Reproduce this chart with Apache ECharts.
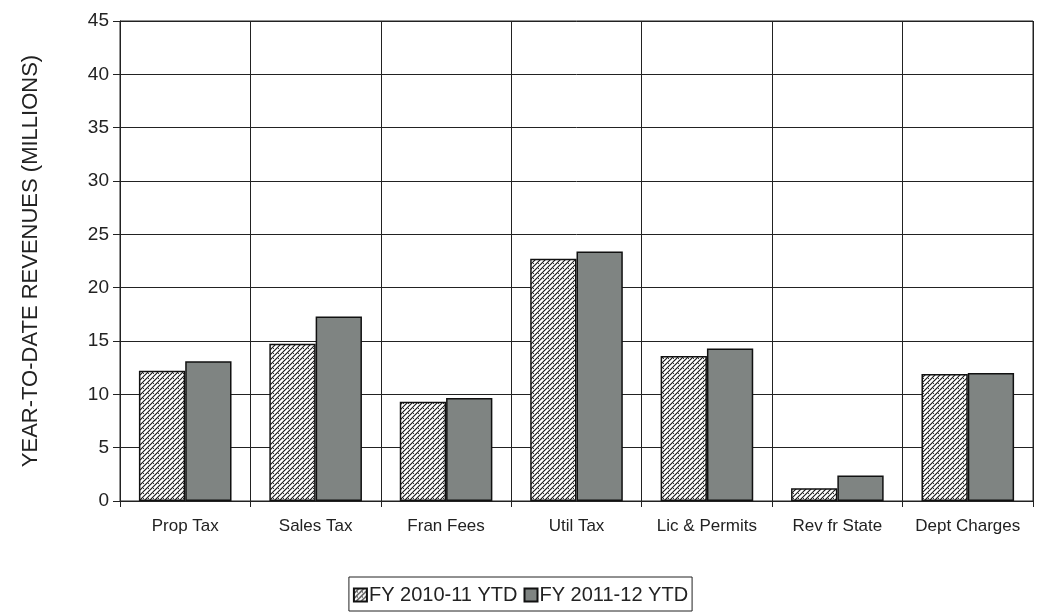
<!DOCTYPE html>
<html>
<head>
    <meta charset="utf-8">
    <title>YTD Revenues</title>
    <script src="https://cdn.jsdelivr.net/npm/echarts@6/dist/echarts.min.js"></script>
    <style>
        body { margin: 0; background: #fff; }
    </style>
</head>
<body>
<div id="main" style="width: 1041px;height:614px;"></div>
<script type="text/javascript">
    var categories = ['Prop Tax', 'Sales Tax', 'Fran Fees', 'Util Tax', 'Lic & Permits', 'Rev fr State', 'Dept Charges'];
    var fy1011 = [12.2, 14.75, 9.3, 22.7, 13.6, 1.2, 11.9];
    var fy1112 = [13.1, 17.3, 9.65, 23.4, 14.3, 2.4, 12.0];
    var seriesNames = ['FY 2010-11 YTD', 'FY 2011-12 YTD'];

    // hatch pattern for the first series
    var canvas = document.createElement('canvas');
    canvas.width = canvas.height = 5;
    var ctx = canvas.getContext('2d');
    ctx.fillStyle = '#fff';
    ctx.fillRect(0, 0, 5, 5);
    ctx.strokeStyle = '#1a1a1a';
    ctx.lineWidth = 1.2;
    ctx.beginPath();
    ctx.moveTo(0, 5); ctx.lineTo(5, 0);
    ctx.moveTo(-2.5, 2.5); ctx.lineTo(2.5, -2.5);
    ctx.moveTo(2.5, 7.5); ctx.lineTo(7.5, 2.5);
    ctx.stroke();
    ctx.fillStyle = '#333';
    ctx.fillRect(3, 3, 1, 1);

    var hatch = { image: canvas, repeat: 'repeat' };

    var myChart = echarts.init(document.getElementById('main'));

    var option = {
        backgroundColor: '#fff',
        animation: false,
        textStyle: { fontFamily: 'Liberation Sans, Arial, sans-serif' },
        grid: {
            left: 120,
            right: 8,
            top: 21,
            bottom: 113,
            show: true,
            borderColor: '#222',
            borderWidth: 1
        },
        legend: {
            bottom: 3,
            left: 'center',
            data: seriesNames,
            icon: 'rect',
            itemWidth: 13,
            itemHeight: 13,
            itemGap: 6,
            padding: [8, 4, 6, 4],
            borderColor: '#222',
            borderWidth: 1,
            textStyle: { fontSize: 20, color: '#222', padding: [0, 0, 0, -3] }
        },
        xAxis: {
            type: 'category',
            data: categories,
            axisLine: { lineStyle: { color: '#222', width: 1 } },
            axisTick: { show: true, inside: false, length: 6, lineStyle: { color: '#222' } },
            axisLabel: {
                interval: 0,
                margin: 17,
                fontSize: 17,
                color: '#222'
            },
            splitLine: { show: true, interval: 0, lineStyle: { color: '#222', width: 1 } }
        },
        yAxis: {
            type: 'value',
            min: 0,
            max: 45,
            interval: 5,
            name: 'YEAR-TO-DATE REVENUES (MILLIONS)',
            nameLocation: 'middle',
            nameGap: 78,
            nameTextStyle: { fontSize: 22, color: '#222' },
            axisLine: { show: true, lineStyle: { color: '#222' } },
            axisTick: { show: true, length: 7, lineStyle: { color: '#222' } },
            axisLabel: { fontSize: 19, color: '#222', margin: 11 },
            splitLine: { show: true, lineStyle: { color: '#222', width: 1 } }
        },
        series: [{
            name: seriesNames[0],
            type: 'bar',
            barGap: '0%',
            barCategoryGap: '29%',
            itemStyle: { color: hatch, borderColor: '#111', borderWidth: 1.5 },
            data: fy1011
        }, {
            name: seriesNames[1],
            type: 'bar',
            itemStyle: { color: '#7f8482', borderColor: '#111', borderWidth: 1.5 },
            data: fy1112
        }]
    };

    myChart.setOption(option);
</script>
</body>
</html>
